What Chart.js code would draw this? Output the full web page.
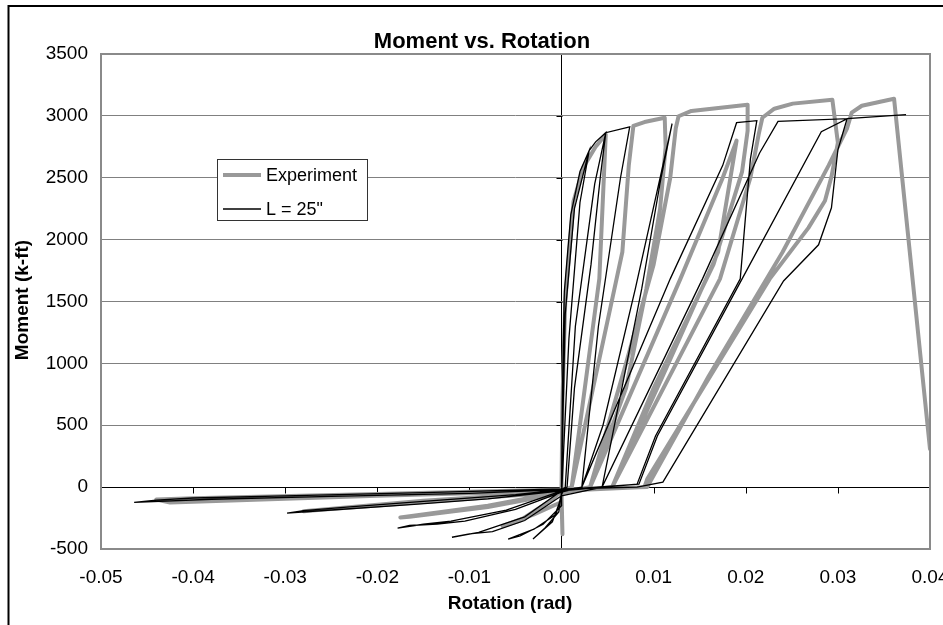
<!DOCTYPE html>
<html>
<head>
<meta charset="utf-8">
<title>Moment vs. Rotation</title>
<script src="https://cdn.jsdelivr.net/npm/chart.js@4.4.0/dist/chart.umd.min.js"></script>
<style>
  html, body { margin: 0; padding: 0; background: #fff; }
  canvas { display: block; }
</style>
</head>
<body>
<canvas id="momentChart" width="943" height="625"></canvas>
<script>
// axis ticks
var rotationTicks = [-0.05, -0.04, -0.03, -0.02, -0.01, 0, 0.01, 0.02, 0.03, 0.04];
var momentTicks = [-500, 0, 500, 1000, 1500, 2000, 2500, 3000, 3500];

// test record, [rotation (rad), moment (k-ft)]
var experimentCurve = [
  [0, 0], [0.0001, 700], [0.0004, 1500], [0.0013, 2310], [0.0024, 2590], [0.0037, 2750], [0.0048, 2850],
  [0.0041, 1683], [0.0011, 0], [0, -50], [0.0001, -380], [0, -120],
  [-0.0030, -220], [-0.0064, -315], [-0.0045, -270], [-0.0010, -100], [0, -30],
  [0.0011, 0], [0.0040, 1000], [0.0066, 1900], [0.0073, 2600], [0.0078, 2920], [0.0090, 2950], [0.0112, 2985],
  [0.0113, 2750], [0.0107, 2250], [0.0092, 1600], [0.0070, 800], [0.0031, 0], [0, -40],
  [-0.0080, -150], [-0.0175, -245], [-0.0165, -240], [-0.0080, -160], [0, -50],
  [0.0031, 0], [0.0070, 1000], [0.0100, 1800], [0.0118, 2500], [0.0124, 2900], [0.0127, 2997], [0.0141, 3040], [0.0202, 3090],
  [0.0202, 2880], [0.0196, 2550], [0.0165, 1800], [0.0100, 800], [0.0055, 0], [0, -40],
  [-0.0150, -110], [-0.0280, -195], [-0.0265, -185], [-0.0150, -120], [0, -40],
  [0.0031, 0], [0.0129, 1683], [0.0175, 2500], [0.0190, 2800],
  [0.0170, 1900], [0.0110, 900], [0.0055, 0],
  [0.0172, 1683], [0.0205, 2500], [0.0214, 2850], [0.0218, 2985], [0.0231, 3058], [0.0251, 3099], [0.0294, 3130],
  [0.0300, 2783], [0.0293, 2508], [0.0286, 2314], [0.0268, 2095], [0.0226, 1683], [0.0093, 65], [0.0090, 0], [0, -30],
  [-0.0200, -70], [-0.0425, -124], [-0.0440, -100], [-0.0400, -90], [-0.0200, -55], [0, -20],
  [0.0093, 0], [0.0160, 900], [0.0240, 1900], [0.0290, 2600], [0.0310, 2900], [0.0315, 3026], [0.0326, 3082], [0.0361, 3139],
  [0.0400, 307]
];

// analysis with L = 25"
var modelCurve = [
  [0, 0], [0.0001, 800], [0.0003, 1580], [0.0010, 2200], [0.0020, 2550], [0.0030, 2720],
  [0.0020, 2300], [0.0008, 1200], [0.0001, 100], [0, -80],
  [-0.0010, -280], [-0.0031, -420], [-0.0018, -330], [-0.0003, -200], [0, -40],
  [0.0001, 400], [0.0004, 1400], [0.0014, 2250], [0.0030, 2720], [0.0037, 2790], [0.0048, 2864],
  [0.0036, 2450], [0.0015, 1300], [0.0004, 0], [0, -60],
  [-0.0006, -220], [-0.0030, -340], [-0.0058, -420], [-0.0045, -395], [-0.0020, -300], [0, -150], [0, -20],
  [0.0006, 0], [0.0014, 800], [0.0032, 1800], [0.0042, 2500], [0.0048, 2864], [0.0074, 2912],
  [0.0064, 2500], [0.0040, 1300], [0.0022, 0], [0, -30],
  [-0.0040, -240], [-0.0090, -365], [-0.0119, -405], [-0.0100, -378], [-0.0075, -360], [-0.0040, -270], [0, -70],
  [0.0044, 0], [0.0087, 1602], [0.0108, 2500], [0.0120, 2937],
  [0.0110, 2600], [0.0080, 1600], [0.0045, 500], [0.0022, 0], [0, -30],
  [-0.0060, -185], [-0.0120, -275], [-0.0150, -300], [-0.0178, -332], [-0.0165, -310], [-0.0135, -298], [-0.0105, -275], [-0.0050, -180], [0, -40],
  [0.0022, 0], [0.0118, 1683], [0.0175, 2600], [0.0190, 2945], [0.0212, 2961],
  [0.0205, 2650], [0.0194, 1683], [0.0102, 413], [0.0082, 24], [0, -30],
  [-0.0080, -95], [-0.0160, -140], [-0.0250, -185], [-0.0298, -210], [-0.0280, -190], [-0.0230, -160], [-0.0150, -115], [-0.0050, -60], [0, -20],
  [0.0044, 0], [0.0153, 1683], [0.0215, 2700], [0.0235, 2955], [0.0310, 2977],
  [0.0282, 2872], [0.0196, 1683], [0.0104, 413], [0.0084, 24], [0, -20],
  [-0.0100, -50], [-0.0250, -75], [-0.0380, -98], [-0.0464, -124], [-0.0440, -105], [-0.0400, -88], [-0.0300, -70], [-0.0150, -45], [0, -15],
  [0.0082, 0], [0.0110, 40], [0.0241, 1666], [0.0279, 1958], [0.0293, 2257], [0.0300, 2726], [0.0310, 2977], [0.0374, 3010]
];

var seriesNames = ['Experiment', 'L = 25"'];
var seriesColors = ['#999999', '#000000'];
var seriesWidths = [4, 1.3];

var fontFamily = 'Arial, "Liberation Sans", sans-serif';

function toPoints(curve) {
  return curve.map(function (p) { return { x: p[0], y: p[1] }; });
}

// keep the plot area where the axes put it, no room reserved for end labels
function noEdgePadding(s) {
  s.paddingLeft = 0;
  s.paddingRight = 0;
  s.paddingTop = 0;
  s.paddingBottom = 0;
}

// frame, axis ticks at zero, titles and the boxed legend
var decorations = {
  id: 'decorations',
  beforeDraw: function (chart) {
    var ctx = chart.ctx;
    ctx.save();
    ctx.fillStyle = '#fff';
    ctx.fillRect(0, 0, chart.width, chart.height);
    ctx.restore();
  },
  beforeDatasetsDraw: function (chart) {
    var ctx = chart.ctx, xs = chart.scales.x, ys = chart.scales.y;
    var x0 = Math.round(xs.getPixelForValue(0)) + 0.5;
    var y0 = Math.round(ys.getPixelForValue(0)) + 0.5;
    ctx.save();
    ctx.strokeStyle = '#000';
    ctx.lineWidth = 1;
    ctx.beginPath();
    rotationTicks.forEach(function (v) {
      var px = Math.round(xs.getPixelForValue(v)) + 0.5;
      ctx.moveTo(px, y0);
      ctx.lineTo(px, y0 + 6);
    });
    momentTicks.forEach(function (v) {
      var py = Math.round(ys.getPixelForValue(v)) + 0.5;
      ctx.moveTo(x0 - 6, py);
      ctx.lineTo(x0, py);
    });
    ctx.stroke();
    ctx.restore();
  },
  afterDatasetsDraw: function (chart) {
    var ctx = chart.ctx, a = chart.chartArea;
    ctx.save();
    ctx.strokeStyle = '#8a8a8a';
    ctx.lineWidth = 2;
    ctx.strokeRect(a.left, a.top, a.right - a.left, a.bottom - a.top);
    ctx.restore();
  },
  afterDraw: function (chart) {
    var ctx = chart.ctx;
    ctx.save();

    // outer chart frame
    ctx.strokeStyle = '#000';
    ctx.lineWidth = 2;
    ctx.strokeRect(8.5, 6, 2000, 2000);

    ctx.fillStyle = '#000';
    ctx.textAlign = 'center';
    ctx.textBaseline = 'alphabetic';
    ctx.font = 'bold 22px ' + fontFamily;
    ctx.fillText('Moment vs. Rotation', 482, 48);

    ctx.font = 'bold 19px ' + fontFamily;
    ctx.fillText('Rotation (rad)', 510, 609);

    ctx.save();
    ctx.translate(28, 300);
    ctx.rotate(-Math.PI / 2);
    ctx.fillText('Moment (k-ft)', 0, 0);
    ctx.restore();

    // legend box
    ctx.fillStyle = '#fff';
    ctx.fillRect(217, 159, 151, 62);
    ctx.strokeStyle = '#333';
    ctx.lineWidth = 1;
    ctx.strokeRect(217.5, 159.5, 150, 61);

    var rows = [175, 209];
    ctx.font = '18px ' + fontFamily;
    ctx.textAlign = 'left';
    for (var i = 0; i < seriesNames.length; i++) {
      ctx.strokeStyle = seriesColors[i];
      ctx.lineWidth = seriesWidths[i];
      ctx.beginPath();
      ctx.moveTo(223, rows[i]);
      ctx.lineTo(261, rows[i]);
      ctx.stroke();
      ctx.fillStyle = '#000';
      ctx.fillText(seriesNames[i], 266, rows[i] + 6);
    }
    ctx.restore();
  }
};

var chart = new Chart(document.getElementById('momentChart'), {
  type: 'scatter',
  data: {
    datasets: [{
      label: seriesNames[0],
      data: toPoints(experimentCurve),
      showLine: true,
      borderColor: seriesColors[0],
      borderWidth: seriesWidths[0],
      borderJoinStyle: 'round',
      borderCapStyle: 'round',
      pointRadius: 0,
      order: 1
    }, {
      label: seriesNames[1],
      data: toPoints(modelCurve),
      showLine: true,
      borderColor: seriesColors[1],
      borderWidth: seriesWidths[1],
      pointRadius: 0,
      order: 0
    }]
  },
  options: {
    responsive: false,
    animation: false,
    devicePixelRatio: 1,
    layout: {
      autoPadding: false,
      padding: { top: 54, right: 13, left: 0, bottom: 0 }
    },
    plugins: {
      legend: { display: false },
      title: { display: false },
      tooltip: { enabled: false }
    },
    elements: { line: { tension: 0 } },
    scales: {
      x: {
        type: 'linear',
        min: -0.05,
        max: 0.04,
        afterBuildTicks: function (s) {
          s.ticks = rotationTicks.map(function (v) { return { value: v }; });
        },
        afterFit: function (s) { s.height = 76; noEdgePadding(s); },
        border: { display: false },
        grid: {
          drawTicks: false,
          lineWidth: 1,
          color: function (c) { return c.tick && c.tick.value === 0 ? '#000' : 'rgba(0,0,0,0)'; }
        },
        ticks: {
          padding: 17,
          color: '#000',
          maxRotation: 0,
          autoSkip: false,
          font: { family: fontFamily, size: 19 },
          callback: function (v) { return v.toFixed(2); }
        }
      },
      y: {
        type: 'linear',
        min: -500,
        max: 3500,
        afterBuildTicks: function (s) {
          s.ticks = momentTicks.map(function (v) { return { value: v }; });
        },
        afterFit: function (s) { s.width = 101; noEdgePadding(s); },
        border: { display: false },
        grid: {
          drawTicks: false,
          lineWidth: 1,
          color: function (c) { return c.tick && c.tick.value === 0 ? '#000' : '#808080'; }
        },
        ticks: {
          padding: 13,
          color: '#000',
          font: { family: fontFamily, size: 19 },
          callback: function (v) { return String(v); }
        }
      }
    }
  },
  plugins: [decorations]
});
</script>
</body>
</html>
